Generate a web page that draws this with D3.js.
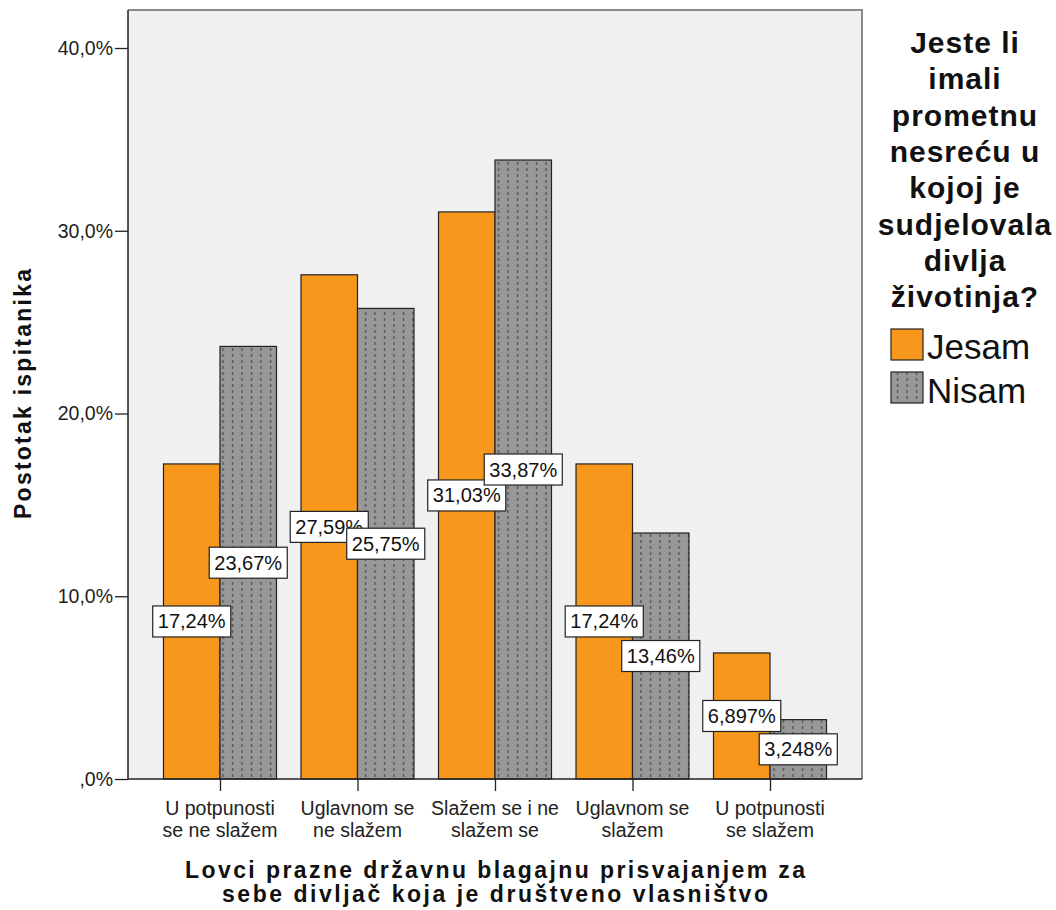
<!DOCTYPE html>
<html><head><meta charset="utf-8">
<script src="https://cdn.jsdelivr.net/npm/d3@7/dist/d3.min.js"></script>
<style>
body{margin:0;background:#fff;}
text{font-family:"Liberation Sans",Arial,sans-serif;}
</style></head>
<body><svg id="c" width="1056" height="910"></svg>
<script>
const categories = [["U potpunosti","se ne slažem"],["Uglavnom se","ne slažem"],["Slažem se i ne","slažem se"],["Uglavnom se","slažem"],["U potpunosti","se slažem"]];
const seriesNames = ["Jesam","Nisam"];
const jesam = [17.24, 27.59, 31.03, 17.24, 6.897];
const nisam = [23.67, 25.75, 33.87, 13.46, 3.248];
const yTicks = [0,10,20,30,40];
const yTickLabels = [",0%","10,0%","20,0%","30,0%","40,0%"];
const legendTitle = ["Jeste li","imali","prometnu","nesreću u","kojoj je","sudjelovala","divlja","životinja?"];
const xTitle = ["Lovci prazne državnu blagajnu prisvajanjem za","sebe divljač koja je društveno vlasništvo"];
const yTitle = "Postotak ispitanika";

const svg = d3.select("#c");
const L=128, R=862, T=10, B=779;
const y = d3.scaleLinear().domain([0,40]).range([B,48]);
const x = d3.scalePoint().domain(d3.range(categories.length)).range([L,R]).padding(0.669);
const bw = 56.5;
const colors = ["#f7981d","#989898"];

const defs = svg.append("defs");
const pat = defs.append("pattern").attr("id","dots").attr("patternUnits","userSpaceOnUse")
  .attr("width",9.5).attr("height",6);
pat.append("rect").attr("width",9.5).attr("height",6).attr("fill","#989898");
pat.append("line").attr("x1",4.5).attr("x2",4.5).attr("y1",0).attr("y2",3).attr("stroke","#4a4a4a").attr("stroke-width",1.2);

// plot background
svg.append("rect").attr("x",L).attr("y",T).attr("width",R-L).attr("height",B-T).attr("fill","#f0f0f0");
svg.append("line").attr("x1",L).attr("x2",R+1).attr("y1",T).attr("y2",T).attr("stroke","#8a8a8a").attr("stroke-width",2);
svg.append("line").attr("x1",R).attr("x2",R).attr("y1",T).attr("y2",B).attr("stroke","#8a8a8a").attr("stroke-width",2);

const data = [jesam, nisam];
const fmt = v => d3.format(".4r")(v).replace(".",",") + "%";
const g = svg.append("g");
data.forEach((arr,si)=>{
  g.selectAll(null).data(arr).enter().append("rect")
    .attr("x",(d,i)=>x(i) + (si===0?-bw:0))
    .attr("y",d=>y(d))
    .attr("width",bw).attr("height",d=>B-y(d))
    .attr("fill", si===0?colors[0]:"url(#dots)")
    .attr("stroke","#222").attr("stroke-width",1.2);
});

// axes
const yAxis = svg.append("g").attr("transform",`translate(${L},0)`)
  .call(d3.axisLeft(y).tickValues(yTicks).tickFormat((d,i)=>yTickLabels[i]).tickSize(13).tickPadding(2));
yAxis.select(".domain").remove();
yAxis.selectAll("line").attr("stroke","#222").attr("stroke-width",1.3);
yAxis.selectAll("text").attr("font-size",19.5).attr("fill","#222").attr("font-family","Liberation Sans, Arial, sans-serif");
svg.append("line").attr("x1",L).attr("x2",L).attr("y1",T).attr("y2",B).attr("stroke","#222").attr("stroke-width",1.5);

const xAxis = svg.append("g").attr("transform",`translate(0,${B})`)
  .call(d3.axisBottom(x).tickSize(12).tickFormat(""));
xAxis.select(".domain").remove();
xAxis.selectAll("line").attr("stroke","#222").attr("stroke-width",1.3);
svg.append("line").attr("x1",L).attr("x2",R).attr("y1",B).attr("y2",B).attr("stroke","#222").attr("stroke-width",1.5);
categories.forEach((c,i)=>{
  c.forEach((ln,j)=>{
    svg.append("text").attr("x",x(i)).attr("y",815+j*22).attr("text-anchor","middle")
      .attr("font-size",19.5).attr("fill","#222").text(ln);
  });
});

// labels
data.forEach((arr,si)=>{
  arr.forEach((v,i)=>{
    const cx = x(i) + (si===0?-bw/2:bw/2);
    const cy = y(v/2);
    const lg = svg.append("g");
    const t = lg.append("text").attr("x",cx).attr("y",cy+7).attr("text-anchor","middle")
      .attr("font-size",20).attr("fill","#111").text(fmt(v));
    const bb = t.node().getBBox();
    lg.insert("rect","text").attr("x",cx-bb.width/2-5).attr("y",cy-15.5).attr("width",bb.width+10).attr("height",31)
      .attr("fill","#fff").attr("stroke","#222").attr("stroke-width",1.2);
  });
});

// axis titles
const xLens = [620, 546];
xTitle.forEach((ln,j)=>{
  svg.append("text").attr("x",(L+R)/2).attr("y",878+j*24).attr("text-anchor","middle")
    .attr("font-size",23).attr("font-weight","bold").attr("textLength",xLens[j]).attr("lengthAdjust","spacing")
    .attr("fill","#111").text(ln);
});
svg.append("text").attr("transform",`translate(31,394) rotate(-90)`).attr("text-anchor","middle")
  .attr("font-size",23).attr("font-weight","bold").attr("textLength",250).attr("lengthAdjust","spacing")
  .attr("fill","#111").text(yTitle);

// legend
legendTitle.forEach((ln,j)=>{
  svg.append("text").attr("x",965).attr("y",53+j*36.3).attr("text-anchor","middle")
    .attr("font-size",30).attr("font-weight","bold").attr("letter-spacing",1).attr("fill","#111").text(ln);
});
seriesNames.forEach((s,i)=>{
  svg.append("rect").attr("x",891).attr("y",329+i*43).attr("width",32).attr("height",31)
    .attr("fill", i===0?colors[0]:"url(#dots)").attr("stroke","#222").attr("stroke-width",1.2);
  svg.append("text").attr("x",927).attr("y",359+i*44).attr("font-size",35).attr("fill","#111").text(s);
});
</script></body></html>
